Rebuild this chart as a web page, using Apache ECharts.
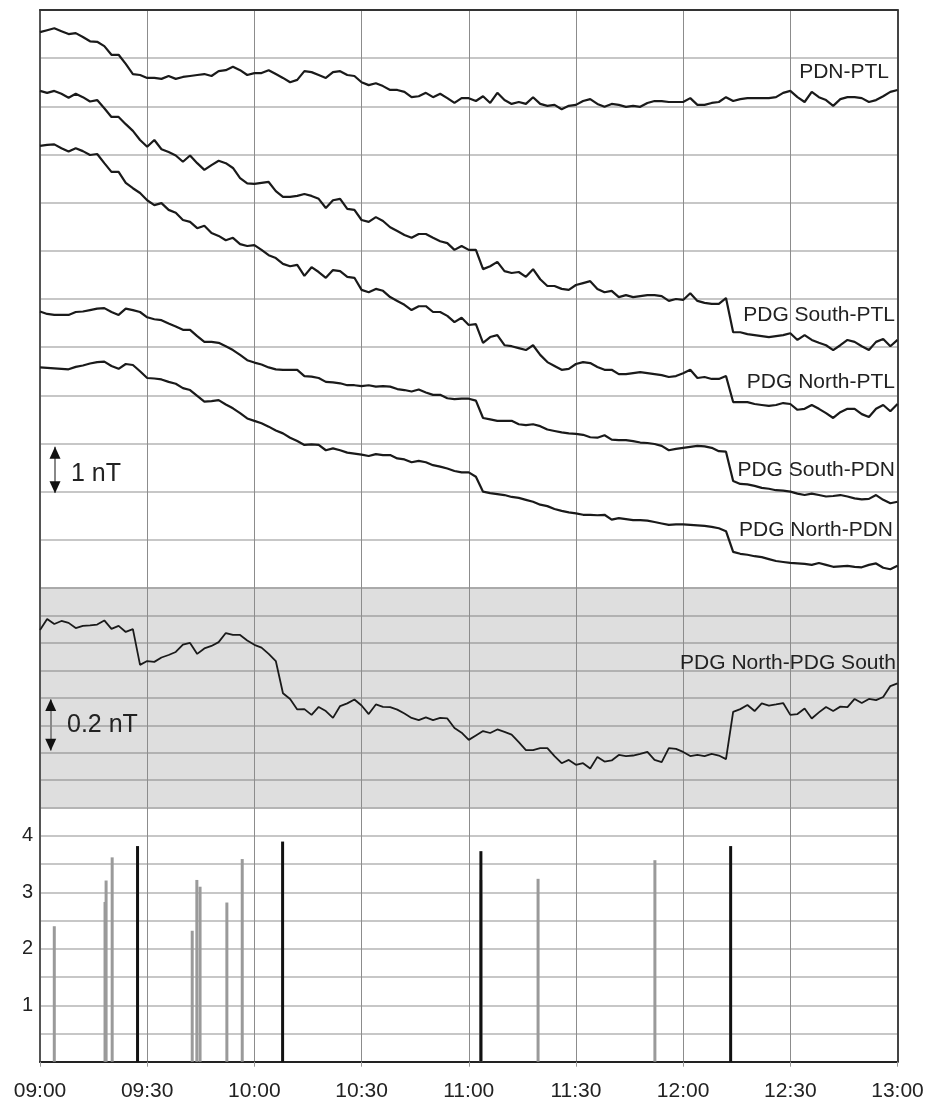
<!DOCTYPE html>
<html>
<head>
<meta charset="utf-8">
<title>PDG / PDN / PTL</title>
<script src="https://cdn.jsdelivr.net/npm/echarts@6/dist/echarts.min.js"></script>
<style>
  html, body { margin: 0; padding: 0; background: #fff; }
  #main { width: 930px; height: 1102px; }
</style>
</head>
<body>
<div id="main"></div>
<script>
// minutes after 09:00, one sample every 2 minutes
var times = [];
for (var t = 0; t <= 240; t += 2) times.push(t);

var timeLabels = ['09:00', '09:30', '10:00', '10:30', '11:00', '11:30', '12:00', '12:30', '13:00'];

// top panel, nT with stacking offsets (1 grid line = 1 nT)
var pdnPtl = [
    11.54, 11.58, 11.62, 11.56, 11.50, 11.52, 11.44, 11.35, 11.34, 11.25,
    11.07, 11.07, 10.88, 10.67, 10.65, 10.59, 10.59, 10.57, 10.63, 10.57,
    10.61, 10.63, 10.65, 10.67, 10.63, 10.73, 10.75, 10.82, 10.75, 10.65,
    10.69, 10.69, 10.75, 10.67, 10.59, 10.50, 10.55, 10.73, 10.71, 10.65,
    10.59, 10.71, 10.73, 10.65, 10.63, 10.50, 10.44, 10.48, 10.42, 10.34,
    10.34, 10.30, 10.19, 10.21, 10.28, 10.19, 10.26, 10.17, 10.07, 10.17,
    10.17, 10.11, 10.21, 10.07, 10.28, 10.13, 10.05, 10.09, 10.05, 10.19,
    10.05, 10.01, 10.03, 9.94, 10.01, 10.03, 10.11, 10.15, 10.05, 9.99,
    10.05, 10.03, 9.99, 10.01, 9.99, 10.07, 10.11, 10.11, 10.09, 10.09,
    10.09, 10.17, 10.03, 10.03, 10.07, 10.09, 10.19, 10.11, 10.15, 10.17,
    10.17, 10.17, 10.17, 10.19, 10.28, 10.32, 10.19, 10.09, 10.30, 10.19,
    10.13, 10.01, 10.15, 10.19, 10.19, 10.17, 10.09, 10.13, 10.21, 10.30,
    10.34
];
var southPtl = [
    10.32, 10.28, 10.32, 10.26, 10.18, 10.26, 10.19, 10.10, 10.13, 9.96,
    9.78, 9.78, 9.63, 9.49, 9.30, 9.16, 9.30, 9.11, 9.05, 8.98,
    8.85, 8.98, 8.82, 8.68, 8.78, 8.87, 8.82, 8.72, 8.51, 8.40,
    8.39, 8.41, 8.43, 8.24, 8.12, 8.12, 8.14, 8.18, 8.14, 8.08,
    7.89, 8.05, 8.08, 7.87, 7.85, 7.64, 7.60, 7.70, 7.62, 7.49,
    7.41, 7.33, 7.27, 7.35, 7.35, 7.27, 7.20, 7.16, 7.02, 7.10,
    7.02, 7.02, 6.62, 6.68, 6.77, 6.58, 6.54, 6.56, 6.46, 6.62,
    6.41, 6.27, 6.27, 6.21, 6.19, 6.29, 6.33, 6.37, 6.21, 6.14,
    6.17, 6.04, 6.08, 6.04, 6.06, 6.08, 6.08, 6.06, 5.96, 6.00,
    5.98, 6.12, 5.96, 5.92, 5.90, 5.90, 6.02, 5.31, 5.31, 5.27,
    5.25, 5.23, 5.21, 5.23, 5.25, 5.29, 5.15, 5.25, 5.15, 5.09,
    5.04, 4.94, 5.04, 5.15, 5.11, 5.02, 4.94, 5.11, 5.17, 5.02,
    5.15
];
var northPtl = [
    9.18, 9.20, 9.21, 9.13, 9.06, 9.13, 9.07, 8.99, 9.01, 8.82,
    8.64, 8.64, 8.41, 8.30, 8.20, 8.05, 7.95, 7.99, 7.85, 7.79,
    7.64, 7.60, 7.47, 7.52, 7.37, 7.31, 7.22, 7.27, 7.14, 7.10,
    7.12, 7.02, 6.91, 6.85, 6.73, 6.68, 6.71, 6.48, 6.66, 6.56,
    6.44, 6.60, 6.58, 6.46, 6.44, 6.19, 6.14, 6.21, 6.17, 6.04,
    5.96, 5.88, 5.77, 5.85, 5.85, 5.73, 5.73, 5.65, 5.52, 5.61,
    5.46, 5.48, 5.09, 5.21, 5.25, 5.04, 5.02, 4.98, 4.94, 5.04,
    4.84, 4.69, 4.61, 4.53, 4.55, 4.65, 4.69, 4.67, 4.59, 4.53,
    4.53, 4.44, 4.44, 4.46, 4.48, 4.46, 4.44, 4.42, 4.38, 4.40,
    4.46, 4.53, 4.36, 4.38, 4.34, 4.34, 4.40, 3.86, 3.86, 3.86,
    3.82, 3.80, 3.78, 3.80, 3.84, 3.82, 3.70, 3.72, 3.80, 3.72,
    3.63, 3.53, 3.65, 3.72, 3.72, 3.61, 3.55, 3.72, 3.80, 3.67,
    3.82
];
var southPdn = [
    5.74, 5.69, 5.67, 5.67, 5.67, 5.73, 5.74, 5.77, 5.80, 5.81,
    5.73, 5.67, 5.80, 5.77, 5.73, 5.62, 5.58, 5.56, 5.49, 5.43,
    5.36, 5.36, 5.23, 5.11, 5.11, 5.09, 5.02, 4.94, 4.84, 4.73,
    4.68, 4.64, 4.58, 4.54, 4.53, 4.53, 4.53, 4.40, 4.39, 4.36,
    4.28, 4.27, 4.25, 4.21, 4.21, 4.19, 4.21, 4.18, 4.19, 4.18,
    4.13, 4.11, 4.08, 4.12, 4.06, 4.01, 4.01, 3.94, 3.92, 3.93,
    3.93, 3.89, 3.53, 3.50, 3.47, 3.47, 3.47, 3.40, 3.38, 3.40,
    3.36, 3.29, 3.26, 3.23, 3.21, 3.20, 3.18, 3.13, 3.12, 3.17,
    3.08, 3.07, 3.07, 3.05, 3.02, 3.01, 2.99, 2.95, 2.86, 2.89,
    2.91, 2.93, 2.95, 2.94, 2.91, 2.84, 2.83, 2.22, 2.16, 2.15,
    2.12, 2.08, 2.06, 2.03, 2.02, 2.00, 1.96, 1.93, 1.96, 1.93,
    1.90, 1.91, 1.93, 1.90, 1.86, 1.84, 1.85, 1.93, 1.83, 1.76,
    1.79
];
var northPdn = [
    4.58, 4.57, 4.56, 4.55, 4.54, 4.59, 4.62, 4.66, 4.69, 4.70,
    4.61, 4.55, 4.65, 4.63, 4.50, 4.36, 4.35, 4.33, 4.28, 4.24,
    4.15, 4.11, 3.99, 3.87, 3.88, 3.90, 3.81, 3.73, 3.63, 3.52,
    3.47, 3.42, 3.35, 3.27, 3.21, 3.12, 3.05, 2.97, 2.98, 2.97,
    2.86, 2.90, 2.86, 2.81, 2.79, 2.77, 2.74, 2.78, 2.76, 2.76,
    2.69, 2.67, 2.61, 2.64, 2.61, 2.55, 2.52, 2.48, 2.43, 2.40,
    2.40, 2.31, 2.00, 1.97, 1.95, 1.93, 1.89, 1.87, 1.83, 1.79,
    1.73, 1.70, 1.64, 1.60, 1.57, 1.55, 1.52, 1.52, 1.51, 1.52,
    1.42, 1.45, 1.43, 1.41, 1.41, 1.40, 1.37, 1.34, 1.31, 1.32,
    1.32, 1.31, 1.30, 1.29, 1.27, 1.24, 1.18, 0.75, 0.71, 0.69,
    0.66, 0.64, 0.60, 0.56, 0.54, 0.52, 0.51, 0.50, 0.48, 0.52,
    0.48, 0.44, 0.45, 0.46, 0.44, 0.43, 0.48, 0.51, 0.42, 0.39,
    0.46
];

// middle (grey) panel, nT (1 grid line = 0.1 nT)
var northSouth = [
    0.647, 0.687, 0.669, 0.680, 0.673, 0.654, 0.662, 0.664, 0.667, 0.682,
    0.651, 0.662, 0.640, 0.650, 0.520, 0.534, 0.531, 0.547, 0.556, 0.567,
    0.594, 0.600, 0.560, 0.580, 0.589, 0.603, 0.636, 0.629, 0.629, 0.609,
    0.593, 0.583, 0.560, 0.534, 0.417, 0.396, 0.358, 0.359, 0.338, 0.367,
    0.352, 0.327, 0.370, 0.380, 0.394, 0.372, 0.341, 0.376, 0.367, 0.366,
    0.357, 0.343, 0.327, 0.319, 0.329, 0.319, 0.327, 0.325, 0.290, 0.273,
    0.247, 0.263, 0.279, 0.272, 0.285, 0.276, 0.266, 0.239, 0.210, 0.210,
    0.217, 0.217, 0.188, 0.162, 0.174, 0.156, 0.162, 0.143, 0.185, 0.168,
    0.172, 0.192, 0.188, 0.190, 0.196, 0.203, 0.174, 0.166, 0.217, 0.214,
    0.203, 0.188, 0.192, 0.188, 0.196, 0.190, 0.177, 0.349, 0.359, 0.374,
    0.352, 0.380, 0.372, 0.376, 0.381, 0.338, 0.341, 0.361, 0.325, 0.347,
    0.367, 0.352, 0.368, 0.366, 0.396, 0.381, 0.396, 0.392, 0.403, 0.443,
    0.453
];

// bottom panel spikes (minutes after 09:00, height)
var greyTimes = [4.0, 18.2, 18.5, 20.2, 42.6, 43.9, 44.8, 52.3, 56.6, 123.4, 139.4, 172.1];
var greyValues = [2.40, 2.83, 3.21, 3.62, 2.32, 3.22, 3.10, 2.82, 3.59, 3.22, 3.24, 3.57];
var blackTimes = [27.3, 67.9, 123.4, 193.3];
var blackValues = [3.82, 3.90, 3.73, 3.82];

var traceNames = ['PDN-PTL', 'PDG South-PTL', 'PDG North-PTL', 'PDG South-PDN', 'PDG North-PDN', 'PDG North-PDG South'];

var FONT = '"Liberation Sans", Arial, sans-serif';

function pairs(xs, ys) {
    return xs.map(function (x, i) { return [x, ys[i]]; });
}

function frameAxis(grid, min, max, side, color) {
    return {
        type: 'value', gridIndex: grid, min: min, max: max, position: side,
        axisLine: { show: true, onZero: false, lineStyle: { color: color, width: 2 } },
        axisTick: { show: false }, axisLabel: { show: false }, splitLine: { show: false }
    };
}

function timeAxis(grid, opts) {
    var ax = {
        type: 'value', gridIndex: grid, min: 0, max: 240, interval: 30,
        axisLine: { show: false },
        axisTick: { show: false },
        axisLabel: { show: false },
        splitLine: { show: true, lineStyle: { color: '#8c8c8c', width: 1 } }
    };
    return Object.assign(ax, opts || {});
}

function traceSeries(name, values, xi, yi, width) {
    return {
        name: name, type: 'line', xAxisIndex: xi, yAxisIndex: yi,
        data: pairs(times, values), showSymbol: false, smooth: false,
        lineStyle: { color: '#1a1a1a', width: width }, z: 5
    };
}

function textItem(str, x, y, size, align) {
    return {
        type: 'text', x: x, y: y, z: 50,
        style: { text: str, font: size + 'px ' + FONT, fill: '#222', textAlign: align, textVerticalAlign: 'middle' }
    };
}

var chart = echarts.init(document.getElementById('main'));

var topSeries = [pdnPtl, southPtl, northPtl, southPdn, northPdn].map(function (v, i) {
    return traceSeries(traceNames[i], v, 0, 0, 2.2);
});
// 1 nT scale bar
topSeries[4].markLine = {
    silent: true, symbol: ['none', 'none'], label: { show: false },
    lineStyle: { color: '#888', width: 2, type: 'solid' },
    data: [[{ coord: [4.2, 1.97] }, { coord: [4.2, 2.93] }]]
};
topSeries[4].markPoint = {
    silent: true, symbol: 'triangle', symbolSize: [11, 12], label: { show: false },
    itemStyle: { color: '#111' },
    data: [{ coord: [4.2, 2.81] }, { coord: [4.2, 2.09], symbolRotate: 180 }]
};

var midSeries = traceSeries(traceNames[5], northSouth, 1, 2, 1.8);
// 0.2 nT scale bar
midSeries.markLine = {
    silent: true, symbol: ['none', 'none'], label: { show: false },
    lineStyle: { color: '#888', width: 2, type: 'solid' },
    data: [[{ coord: [3.0, 0.208] }, { coord: [3.0, 0.394] }]]
};
midSeries.markPoint = {
    silent: true, symbol: 'triangle', symbolSize: [11, 12], label: { show: false },
    itemStyle: { color: '#111' },
    data: [{ coord: [3.0, 0.374] }, { coord: [3.0, 0.229], symbolRotate: 180 }]
};

chart.setOption({
    animation: false,
    backgroundColor: '#fff',
    grid: [
        { left: 40, right: 32.5, top: 10, height: 578 },
        { left: 40, right: 32.5, top: 588, height: 219.7, show: true, backgroundColor: '#dedede', borderWidth: 0 },
        { left: 40, right: 32.5, top: 807.7, height: 254 }
    ],
    xAxis: [
        timeAxis(0, { position: 'top', axisLine: { show: true, onZero: false, lineStyle: { color: '#333', width: 2 } } }),
        timeAxis(1),
        timeAxis(2, {
            position: 'bottom',
            axisLine: { show: true, onZero: false, lineStyle: { color: '#222', width: 2 } },
            axisTick: { show: true, length: 5, lineStyle: { color: '#999' } },
            axisLabel: {
                show: true, margin: 19, color: '#222', fontSize: 21, fontFamily: FONT,
                showMinLabel: true, showMaxLabel: true, hideOverlap: false,
                formatter: function (v) { return timeLabels[Math.round(v / 30)]; }
            }
        })
    ],
    yAxis: [
        {
            type: 'value', gridIndex: 0, min: 0, max: 12, interval: 1,
            axisLine: { show: true, onZero: false, lineStyle: { color: '#555', width: 2 } },
            axisTick: { show: false }, axisLabel: { show: false },
            splitLine: { show: true, lineStyle: { color: '#b4b4b4', width: 1.5 } }
        },
        frameAxis(0, 0, 12, 'right', '#444'),
        {
            type: 'value', gridIndex: 1, min: 0, max: 0.8, interval: 0.1,
            axisLine: { show: true, onZero: false, lineStyle: { color: '#555', width: 2 } },
            axisTick: { show: false }, axisLabel: { show: false },
            splitLine: { show: true, lineStyle: { color: '#a2a2a2', width: 1.5 } }
        },
        frameAxis(1, 0, 0.8, 'right', '#444'),
        {
            type: 'value', gridIndex: 2, min: 0, max: 4.5, interval: 0.5,
            axisLine: { show: true, onZero: false, lineStyle: { color: '#555', width: 2 } },
            axisTick: { show: false },
            axisLabel: {
                show: true, margin: 7, color: '#222', fontSize: 20, fontFamily: FONT,
                formatter: function (v) { return (v > 0 && v < 4.5 && v % 1 === 0) ? String(v) : ''; }
            },
            splitLine: { show: true, lineStyle: { color: '#b4b4b4', width: 1.5 } }
        },
        frameAxis(2, 0, 4.5, 'right', '#444')
    ],
    series: topSeries.concat([
        midSeries,
        {
            name: 'grey', type: 'bar', xAxisIndex: 2, yAxisIndex: 4,
            data: pairs(greyTimes, greyValues), barWidth: 3, barGap: '-100%',
            itemStyle: { color: '#9a9a9a' }, z: 3
        },
        {
            name: 'black', type: 'bar', xAxisIndex: 2, yAxisIndex: 4,
            data: pairs(blackTimes, blackValues), barWidth: 3, barGap: '-100%',
            itemStyle: { color: '#111' }, z: 4
        }
    ]),
    graphic: [
        textItem(traceNames[0], 889, 72.5, 21, 'right'),
        textItem(traceNames[1], 895, 315.5, 21, 'right'),
        textItem(traceNames[2], 895, 382.5, 21, 'right'),
        textItem(traceNames[3], 895, 470.5, 21, 'right'),
        textItem(traceNames[4], 893, 530, 21, 'right'),
        textItem(traceNames[5], 896, 663.5, 21, 'right'),
        textItem('1 nT', 71, 474, 25, 'left'),
        textItem('0.2 nT', 67, 725, 25, 'left')
    ]
});
</script>
</body>
</html>
